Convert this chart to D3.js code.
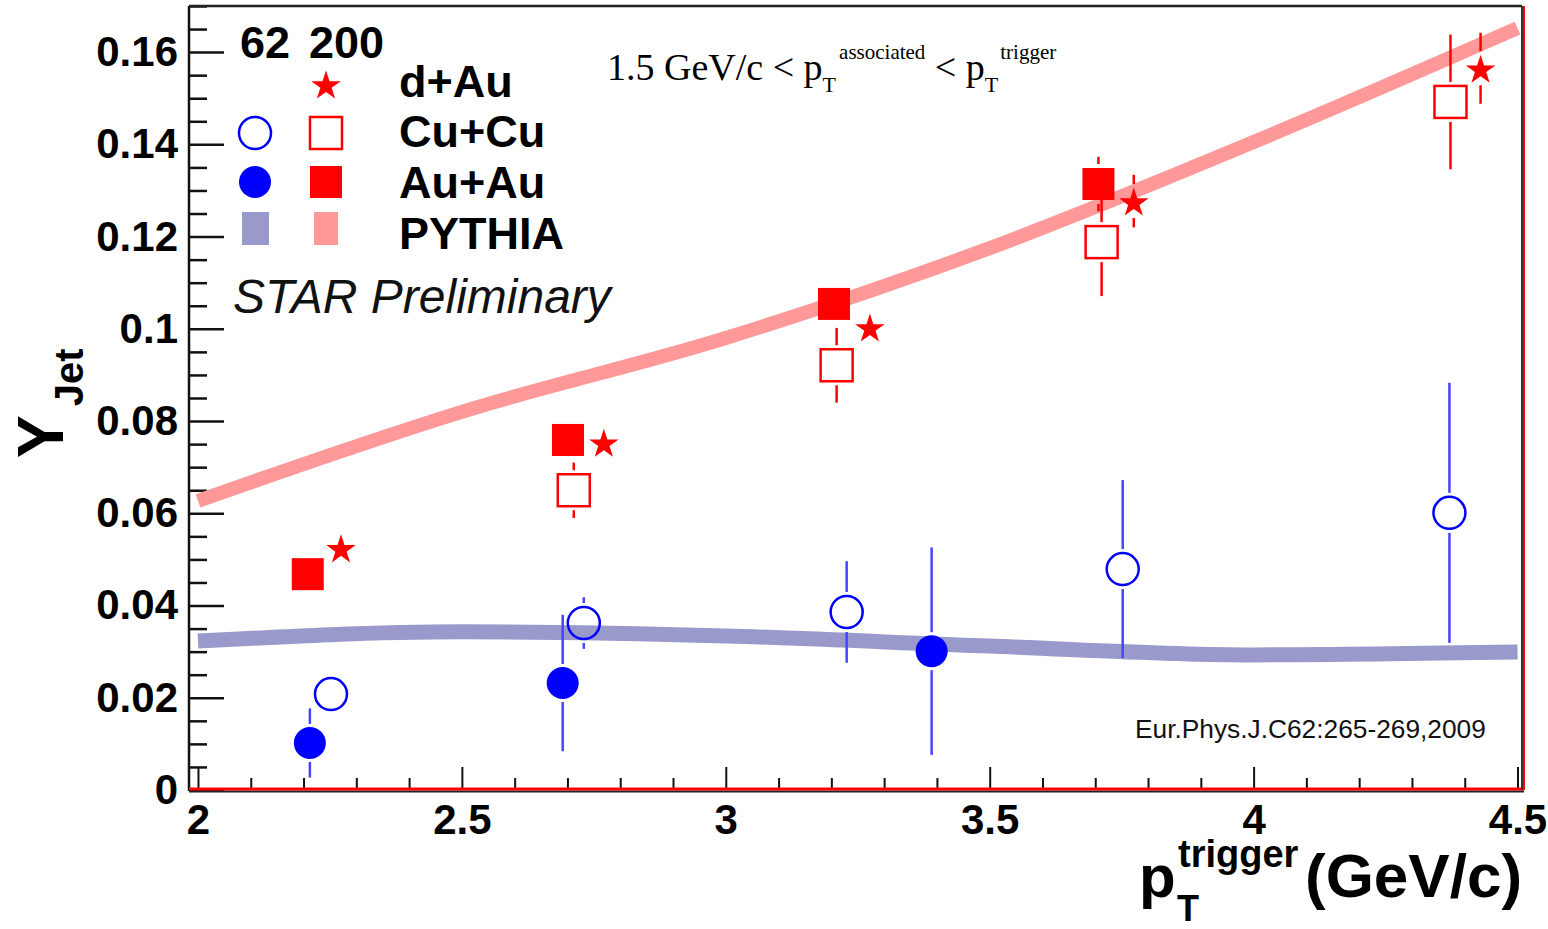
<!DOCTYPE html>
<html>
<head>
<meta charset="utf-8">
<script src="https://cdn.jsdelivr.net/npm/d3@7"></script>
<style>
  html, body { margin: 0; padding: 0; background: #fff; }
  svg { display: block; }
</style>
</head>
<body>
<svg id="chart" width="1548" height="929"></svg>
<script>
// ---------------- DATA ----------------
const xMajorTicks = [2, 2.5, 3, 3.5, 4, 4.5];
const yMajorTicks = [0, 0.02, 0.04, 0.06, 0.08, 0.1, 0.12, 0.14, 0.16];
const yTickLabels = ["0", "0.02", "0.04", "0.06", "0.08", "0.1", "0.12", "0.14", "0.16"];
const xTickLabels = ["2", "2.5", "3", "3.5", "4", "4.5"];

// Au+Au 62 GeV (filled blue circles)
const auau62X   = [2.212, 2.691, 3.390];
const auau62Y   = [0.0102, 0.0232, 0.0301];
const auau62Err = [0.0075, 0.0148, 0.0225];

// Cu+Cu 62 GeV (open blue circles)
const cucu62X   = [2.252, 2.731, 3.229, 3.752, 4.371];
const cucu62Y   = [0.0208, 0.0362, 0.0386, 0.0479, 0.0601];
const cucu62Err = [0.0015, 0.0056, 0.0110, 0.0193, 0.0282];

// Au+Au 200 GeV (filled red squares)
const auau200X   = [2.208, 2.701, 3.205, 3.706];
const auau200Y   = [0.0468, 0.0759, 0.1054, 0.1314];
const auau200Err = [0.0020, 0.0030, 0.0030, 0.0059];

// Cu+Cu 200 GeV (open red squares)
const cucu200X   = [2.712, 3.210, 3.712, 4.373];
const cucu200Y   = [0.0650, 0.0921, 0.1188, 0.1492];
const cucu200Err = [0.0060, 0.0081, 0.0117, 0.0146];

// d+Au 200 GeV (red stars)
const dau200X   = [2.271, 2.769, 3.273, 3.773, 4.430];
const dau200Y   = [0.0525, 0.0754, 0.1004, 0.1277, 0.1565];
const dau200Err = [0.0020, 0.0020, 0.0030, 0.0057, 0.0077];

// PYTHIA bands
const pythiaX    = [2, 2.5, 3, 3.5, 4, 4.5];
const pythia200Y = [0.0627, 0.0820, 0.0980, 0.1175, 0.1405, 0.1652];
const pythia62Y  = [0.0323, 0.0343, 0.0334, 0.0312, 0.0293, 0.0299];

// ---------------- LAYOUT ----------------
const svg = d3.select("#chart");
const frameL = 189, frameR = 1522, frameT = 6, frameB = 790;
const x = d3.scaleLinear().domain([1.983, 4.5085]).range([frameL, frameR]);
const y = d3.scaleLinear().domain([0, 0.17]).range([frameB, frameT]);

const BLUE = "#0000ff", RED = "#ff0000";
const BAND_BLUE = "#9999cc", BAND_RED = "#ff9999";
const SANS = "'Liberation Sans', Arial, Helvetica, sans-serif";
const SERIF = "'Liberation Serif', 'Times New Roman', serif";

// ---------------- AXES ----------------
const fontAxis = `bold 42px ${SANS}`;

// y major
const yMajor = svg.append("g").attr("transform", `translate(${frameL},0)`)
  .call(d3.axisLeft(y).tickValues(yMajorTicks).tickSize(-35).tickPadding(11)
        .tickFormat((d, i) => yTickLabels[i]));
yMajor.select(".domain").remove();
yMajor.selectAll("line").attr("stroke", "#111").attr("stroke-width", 2.5);
yMajor.selectAll("text").style("font", fontAxis).attr("fill", "#000");

// y minor
const yMinorVals = d3.range(0, 0.1701, 0.005).filter(v => !yMajorTicks.some(m => Math.abs(m - v) < 1e-9));
const yMinor = svg.append("g").attr("transform", `translate(${frameL},0)`)
  .call(d3.axisLeft(y).tickValues(yMinorVals).tickSize(-18).tickFormat(""));
yMinor.select(".domain").remove();
yMinor.selectAll("line").attr("stroke", "#111").attr("stroke-width", 2.5);

// x major
const xMajor = svg.append("g").attr("transform", `translate(0,${frameB})`)
  .call(d3.axisBottom(x).tickValues(xMajorTicks).tickSize(-23).tickPadding(14)
        .tickFormat((d, i) => xTickLabels[i]));
xMajor.select(".domain").remove();
xMajor.selectAll("line").attr("stroke", "#111").attr("stroke-width", 2);
xMajor.selectAll("text").style("font", fontAxis).attr("fill", "#000");

// x minor
const xMinorVals = d3.range(2, 4.501, 0.1).filter(v => !xMajorTicks.some(m => Math.abs(m - v) < 1e-9));
const xMinor = svg.append("g").attr("transform", `translate(0,${frameB})`)
  .call(d3.axisBottom(x).tickValues(xMinorVals).tickSize(-12).tickFormat(""));
xMinor.select(".domain").remove();
xMinor.selectAll("line").attr("stroke", "#111").attr("stroke-width", 2);

// ---------------- PYTHIA BANDS ----------------
const bandLine = (ys) => d3.line()
  .x((d, i) => x(pythiaX[i]))
  .y((d, i) => y(ys[i]))
  .curve(d3.curveMonotoneX)(ys);

svg.append("path").attr("d", bandLine(pythia62Y))
  .attr("fill", "none").attr("stroke", BAND_BLUE).attr("stroke-width", 15);
svg.append("path").attr("d", bandLine(pythia200Y))
  .attr("fill", "none").attr("stroke", BAND_RED).attr("stroke-width", 14);

// ---------------- POINTS ----------------
function errorBars(xs, ys, es, color, gap, width) {
  const g = svg.append("g").attr("stroke", color).attr("stroke-width", width);
  xs.forEach((xv, i) => {
    const cx = x(xv), cy = y(ys[i]);
    const top = y(ys[i] + es[i]), bot = y(ys[i] - es[i]);
    if (cy - gap - top > 0.5) g.append("line").attr("x1", cx).attr("x2", cx).attr("y1", top).attr("y2", cy - gap);
    if (bot - (cy + gap) > 0.5) g.append("line").attr("x1", cx).attr("x2", cx).attr("y1", cy + gap).attr("y2", bot);
  });
}

errorBars(auau62X, auau62Y, auau62Err, "#4545ff", 19, 2.5);
errorBars(cucu62X, cucu62Y, cucu62Err, "#4545ff", 20, 2.5);
errorBars(auau200X, auau200Y, auau200Err, RED, 20, 2.5);
errorBars(cucu200X, cucu200Y, cucu200Err, RED, 20, 2.5);
errorBars(dau200X, dau200Y, dau200Err, RED, 17, 2.5);

// Au+Au 62 filled circles
svg.append("g").selectAll("circle").data(auau62X).join("circle")
  .attr("cx", d => x(d)).attr("cy", (d, i) => y(auau62Y[i])).attr("r", 16)
  .attr("fill", BLUE);

// Cu+Cu 62 open circles
svg.append("g").selectAll("circle").data(cucu62X).join("circle")
  .attr("cx", d => x(d)).attr("cy", (d, i) => y(cucu62Y[i])).attr("r", 16)
  .attr("fill", "none").attr("stroke", BLUE).attr("stroke-width", 2.5);

// Au+Au 200 filled squares
svg.append("g").selectAll("rect").data(auau200X).join("rect")
  .attr("x", d => x(d) - 16).attr("y", (d, i) => y(auau200Y[i]) - 16)
  .attr("width", 32).attr("height", 32).attr("fill", RED);

// Cu+Cu 200 open squares
svg.append("g").selectAll("rect").data(cucu200X).join("rect")
  .attr("x", d => x(d) - 16).attr("y", (d, i) => y(cucu200Y[i]) - 16)
  .attr("width", 32).attr("height", 32)
  .attr("fill", "none").attr("stroke", RED).attr("stroke-width", 2.5);

// d+Au stars
const star = d3.symbol().type(d3.symbolStar).size(270);
svg.append("g").selectAll("path").data(dau200X).join("path")
  .attr("d", star)
  .attr("transform", (d, i) => `translate(${x(d)},${y(dau200Y[i]) + 2})`)
  .attr("fill", RED);

// ---------------- FRAME ----------------
svg.append("line").attr("x1", frameL).attr("x2", frameL).attr("y1", frameT).attr("y2", frameB + 1)
  .attr("stroke", "#111").attr("stroke-width", 2.5);
svg.append("line").attr("x1", frameL).attr("x2", frameR).attr("y1", frameT).attr("y2", frameT)
  .attr("stroke", "#222").attr("stroke-width", 2.5);
svg.append("line").attr("x1", frameL).attr("x2", frameR + 2).attr("y1", frameB + 1.5).attr("y2", frameB + 1.5)
  .attr("stroke", "#222").attr("stroke-width", 2);
svg.append("line").attr("x1", frameL).attr("x2", frameR + 2).attr("y1", frameB - 1).attr("y2", frameB - 1)
  .attr("stroke", RED).attr("stroke-width", 3);
svg.append("line").attr("x1", frameR).attr("x2", frameR).attr("y1", frameT).attr("y2", frameB)
  .attr("stroke", "#333").attr("stroke-width", 2);
svg.append("line").attr("x1", frameR + 2).attr("x2", frameR + 2).attr("y1", frameT).attr("y2", frameB)
  .attr("stroke", RED).attr("stroke-width", 2);

// ---------------- LEGEND ----------------
const lg = svg.append("g");
const legFont = `bold 45px ${SANS}`;
lg.append("text").attr("x", 240).attr("y", 58).style("font", legFont).text("62");
lg.append("text").attr("x", 309).attr("y", 58).style("font", legFont).text("200");
const legRows = [
  {label: "d+Au",   y: 97},
  {label: "Cu+Cu",  y: 147},
  {label: "Au+Au",  y: 198},
  {label: "PYTHIA", y: 249}
];
lg.selectAll("text.lab").data(legRows).join("text").attr("class", "lab")
  .attr("x", 399).attr("y", d => d.y).style("font", legFont).text(d => d.label);

const c1 = 255, c2 = 326;
lg.append("path").attr("d", star).attr("transform", `translate(${c2},86)`).attr("fill", RED);
lg.append("circle").attr("cx", c1).attr("cy", 133).attr("r", 16)
  .attr("fill", "none").attr("stroke", BLUE).attr("stroke-width", 2.5);
lg.append("rect").attr("x", c2 - 16).attr("y", 117).attr("width", 32).attr("height", 32)
  .attr("fill", "none").attr("stroke", RED).attr("stroke-width", 2.5);
lg.append("circle").attr("cx", c1).attr("cy", 182).attr("r", 16).attr("fill", BLUE);
lg.append("rect").attr("x", c2 - 16).attr("y", 166).attr("width", 32).attr("height", 32).attr("fill", RED);
lg.append("rect").attr("x", 242).attr("y", 212).attr("width", 27).attr("height", 33).attr("fill", BAND_BLUE);
lg.append("rect").attr("x", 314).attr("y", 212).attr("width", 24).attr("height", 33).attr("fill", BAND_RED);

// STAR Preliminary
svg.append("text").attr("x", 233).attr("y", 313)
  .style("font", `italic 48px ${SANS}`).attr("fill", "#111")
  .text("STAR Preliminary");

// Kinematic annotation
const ann = svg.append("text").attr("x", 607).attr("y", 80)
  .style("font-family", SERIF).style("font-size", "38px").attr("fill", "#000");
ann.append("tspan").text("1.5 GeV/c < p");
ann.append("tspan").attr("dy", 12).style("font-size", "22px").text("T");
ann.append("tspan").attr("dy", -33).attr("dx", 3).style("font-size", "21px").text("associated");
ann.append("tspan").attr("dy", 21).text(" < p");
ann.append("tspan").attr("dy", 12).style("font-size", "22px").text("T");
ann.append("tspan").attr("dy", -33).attr("dx", 2).style("font-size", "21px").text("trigger");

// Reference
svg.append("text").attr("x", 1135).attr("y", 738)
  .style("font", `26.3px ${SANS}`).attr("fill", "#111")
  .text("Eur.Phys.J.C62:265-269,2009");

// ---------------- AXIS TITLES ----------------
const yt = svg.append("text").attr("transform", "translate(63,458) rotate(-90)")
  .style("font-family", SANS).style("font-weight", "bold").attr("fill", "#000");
yt.append("tspan").style("font-size", "64px").text("Y");
yt.append("tspan").attr("dx", 9).attr("dy", 20).style("font-size", "40px").text("Jet");

svg.append("text").attr("x", 1139).attr("y", 897)
  .style("font-family", SANS).style("font-weight", "bold").style("font-size", "60px").text("p");
svg.append("text").attr("x", 1177).attr("y", 921)
  .style("font-family", SANS).style("font-weight", "bold").style("font-size", "36px").text("T");
svg.append("text").attr("x", 1178).attr("y", 867)
  .style("font-family", SANS).style("font-weight", "bold").style("font-size", "38px").text("trigger");
svg.append("text").attr("x", 1305).attr("y", 897)
  .style("font-family", SANS).style("font-weight", "bold").style("font-size", "62px").text("(GeV/c)");
</script>
</body>
</html>
